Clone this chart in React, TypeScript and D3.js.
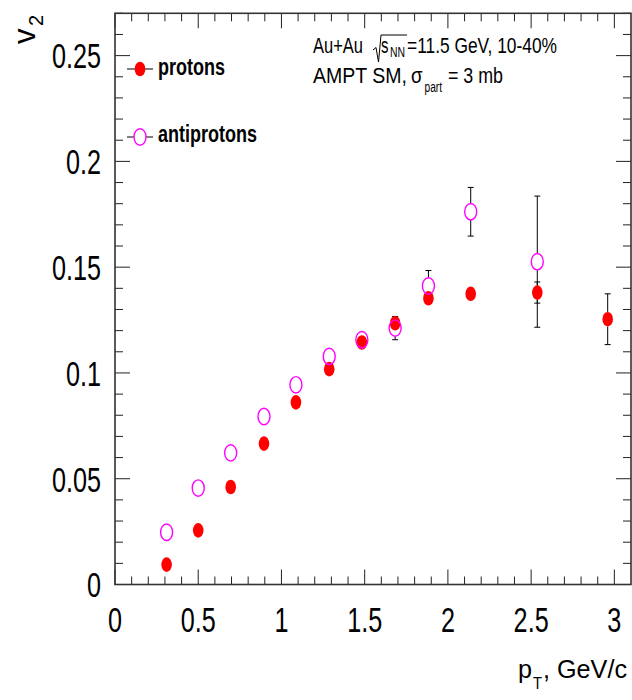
import React from "react";
import * as d3 from "d3";

// ---- data ----
const ptProtons = [0.31, 0.5, 0.695, 0.895, 1.087, 1.287, 1.483, 1.683, 1.883, 2.137, 2.537, 2.96];
const v2Protons = [0.0094, 0.0256, 0.0461, 0.0666, 0.0861, 0.1018, 0.1144, 0.1235, 0.1353, 0.1374, 0.138, 0.1254];
const errProtons = [0.001, 0.001, 0.001, 0.001, 0.001, 0.001, 0.0015, 0.003, 0.003, 0.002, 0.005, 0.012];

const ptAnti = [0.31, 0.5, 0.695, 0.895, 1.087, 1.287, 1.483, 1.683, 1.883, 2.137, 2.537];
const v2Anti = [0.0247, 0.0456, 0.0622, 0.0794, 0.0944, 0.1078, 0.1157, 0.1212, 0.1411, 0.1762, 0.1526];
const errAnti = [0.001, 0.0015, 0.002, 0.002, 0.002, 0.0025, 0.0037, 0.0055, 0.0073, 0.0115, 0.031];

const xTickLabels = ["0", "0.5", "1", "1.5", "2", "2.5", "3"];
const yTickLabels = ["0", "0.05", "0.1", "0.15", "0.2", "0.25"];

const FONT = "'Liberation Sans', Arial, Helvetica, sans-serif";
const RED = "#ff0000";
const MAG = "#ff00ff";

const W = 632, H = 700;
const L = 115, R = 631, T = 13.3, B = 584.5;

const x = d3.scaleLinear().domain([0, 3.1]).range([L, R]);
const y = d3.scaleLinear().domain([0, 0.27]).range([B, T]);

const RP = { rx: 5.3, ry: 7.3 };
const RA = { rx: 6, ry: 8.2 };

function ErrBar({ px, v, e, ry }: { px: number; v: number; e: number; ry: number }) {
  const cy = y(v);
  const top = y(v + e);
  const bot = y(v - e);
  const out: any[] = [];
  if (cy - top > ry) {
    out.push(<line key="t" x1={px} x2={px} y1={top} y2={cy - ry} stroke="#000" strokeWidth={1} />);
    out.push(<line key="tc" x1={px - 3} x2={px + 3} y1={top} y2={top} stroke="#000" strokeWidth={1} />);
  }
  if (bot - cy > ry) {
    out.push(<line key="b" x1={px} x2={px} y1={cy + ry} y2={bot} stroke="#000" strokeWidth={1} />);
    out.push(<line key="bc" x1={px - 3} x2={px + 3} y1={bot} y2={bot} stroke="#000" strokeWidth={1} />);
  }
  return <g>{out}</g>;
}

function FitText({ x0, y0, len, size, weight, children }: any) {
  return (
    <text x={x0} y={y0} fontSize={size} fontFamily={FONT} fontWeight={weight || "normal"}
      textLength={len} lengthAdjust="spacingAndGlyphs" fill="#000">
      {children}
    </text>
  );
}

export default function App() {
  const xMinor = d3.range(0, 31).map((i) => i / 10);
  const xMajor = d3.range(0, 7).map((i) => i * 0.5);
  const yMinor = d3.range(0, 28).map((i) => i / 100);
  const yMajor = d3.range(0, 6).map((i) => i * 0.05);

  return (
    <svg width={W} height={H} style={{ position: "absolute", left: 0, top: 0, background: "#fff" }}>
      <rect x={0} y={0} width={W} height={H} fill="#fff" />

      {/* ticks */}
      <g stroke="#222" strokeWidth={1}>
        {xMinor.map((t, i) => {
          const major = Math.abs(t * 2 - Math.round(t * 2)) < 1e-6;
          const len = major ? 15 : 8;
          return (
            <g key={"xt" + i}>
              <line x1={x(t)} x2={x(t)} y1={B} y2={B - len} />
              <line x1={x(t)} x2={x(t)} y1={T} y2={T + len} />
            </g>
          );
        })}
        {yMinor.map((t, i) => {
          const major = i % 5 === 0;
          const len = major ? 15 : 8;
          return (
            <g key={"yt" + i}>
              <line x1={L} x2={L + len} y1={y(t)} y2={y(t)} />
              <line x1={R} x2={R - len} y1={y(t)} y2={y(t)} />
            </g>
          );
        })}
      </g>

      {/* frame */}
      <rect x={L} y={T} width={R - L} height={B - T} fill="none" stroke="#333" strokeWidth={1.6} />

      {/* tick labels */}
      {xMajor.map((t, i) => (
        <text key={"xl" + i} transform={`translate(${x(t)},632) scale(0.7,1)`} textAnchor="middle"
          fontSize={36} fontFamily={FONT} fill="#000">{xTickLabels[i]}</text>
      ))}
      {yMajor.map((t, i) => (
        <text key={"yl" + i} transform={`translate(101,${y(t) + 12.8}) scale(0.7,1)`} textAnchor="end"
          fontSize={36} fontFamily={FONT} fill="#000">{yTickLabels[i]}</text>
      ))}

      {/* axis titles */}
      <text transform="translate(35,44) rotate(-90)" fontSize={31} fontFamily={FONT} fill="#000">v</text>
      <text transform="translate(43,26) rotate(-90)" fontSize={20} fontFamily={FONT} fill="#000">2</text>

      <FitText x0={518} y0={678} len={14} size={26}>p</FitText>
      <FitText x0={533} y0={689} len={9} size={17}>T</FitText>
      <FitText x0={543} y0={678} len={84} size={26}>, GeV/c</FitText>

      {/* error bars */}
      {ptProtons.map((p, i) => (
        <ErrBar key={"ep" + i} px={x(p)} v={v2Protons[i]} e={errProtons[i]} ry={RP.ry} />
      ))}
      {ptAnti.map((p, i) => (
        <ErrBar key={"ea" + i} px={x(p)} v={v2Anti[i]} e={errAnti[i]} ry={RA.ry} />
      ))}

      {/* markers */}
      {ptProtons.map((p, i) => (
        <ellipse key={"mp" + i} cx={x(p)} cy={y(v2Protons[i])} rx={RP.rx} ry={RP.ry} fill={RED} />
      ))}
      {ptAnti.map((p, i) => (
        <ellipse key={"ma" + i} cx={x(p)} cy={y(v2Anti[i])} rx={RA.rx} ry={RA.ry} fill="none" stroke={MAG} strokeWidth={1.4} />
      ))}

      {/* legend */}
      <line x1={127} x2={153} y1={69} y2={69} stroke="#000" strokeWidth={1} />
      <ellipse cx={140} cy={69} rx={RP.rx} ry={RP.ry} fill={RED} />
      <FitText x0={158} y0={75} len={67} size={23} weight="bold">protons</FitText>

      <line x1={127} x2={153} y1={137} y2={137} stroke="#000" strokeWidth={1} />
      <ellipse cx={140} cy={137} rx={RA.rx} ry={RA.ry} fill="#fff" stroke={MAG} strokeWidth={1.4} />
      <FitText x0={158} y0={142} len={99} size={23} weight="bold">antiprotons</FitText>

      {/* annotation */}
      <FitText x0={313} y0={53} len={50} size={22}>Au+Au</FitText>
      <path d="M373 50 L376 47.5 L378.5 62 L381 35 L407 35" fill="none" stroke="#000" strokeWidth={1} />
      <FitText x0={381} y0={53} len={7.5} size={22}>s</FitText>
      <FitText x0={390} y0={57} len={15} size={14}>NN</FitText>
      <FitText x0={407} y0={53} len={150} size={22}>=11.5 GeV, 10-40%</FitText>

      <FitText x0={313} y0={83} len={94} size={22}>AMPT SM,</FitText>
      <FitText x0={411} y0={83} len={11.5} size={22}>σ</FitText>
      <FitText x0={424.5} y0={92} len={17.5} size={14}>part</FitText>
      <FitText x0={448} y0={83} len={55} size={22}>= 3 mb</FitText>
    </svg>
  );
}
